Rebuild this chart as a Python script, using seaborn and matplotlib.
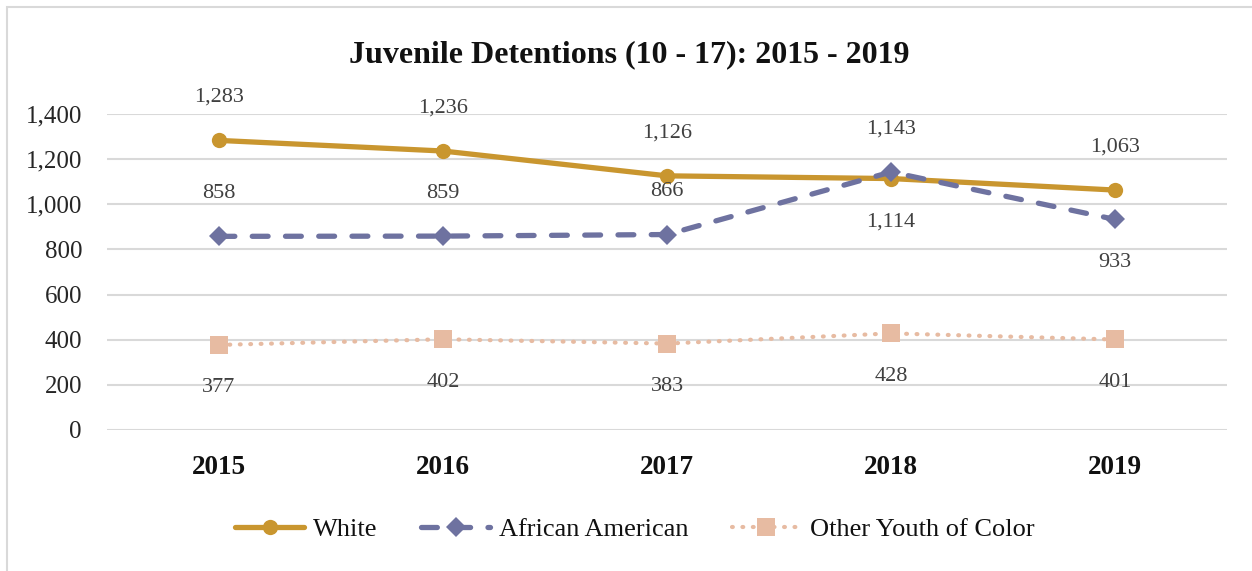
import matplotlib
matplotlib.use("Agg")
import matplotlib.pyplot as plt
from matplotlib.patches import Rectangle
import pandas as pd
import seaborn as sns

# Juvenile detentions by group, ages 10-17
years = ["2015", "2016", "2017", "2018", "2019"]
white = [1283, 1236, 1126, 1114, 1063]
african_american = [858, 859, 866, 1143, 933]
other_youth = [377, 402, 383, 428, 401]

series_names = ["White", "African American", "Other Youth of Color"]
series_values = [white, african_american, other_youth]
# where each value label sits relative to its point (+1 above, -1 below)
label_side = [
    [1, 1, 1, -1, 1],
    [1, 1, 1, 1, -1],
    [-1, -1, -1, -1, -1],
]

y_ticks = [0, 200, 400, 600, 800, 1000, 1200, 1400]

colors = ["#C9962F", "#6E72A0", "#E7BBA2"]
styles = [
    dict(marker="o", markersize=11, linewidth=3.8, linestyle="-",
         solid_capstyle="round"),
    dict(marker="D", markersize=10.5, linewidth=3.8,
         linestyle=(0, (3.0, 3.3)), dash_capstyle="round"),
    dict(marker="s", markersize=13, linewidth=3.0,
         linestyle=(0, (0.2, 2.3)), dash_capstyle="round"),
]

sns.set_style("white")
plt.rcParams["font.family"] = ["Liberation Serif", "DejaVu Serif"]

W, H = 1252, 571
fig = plt.figure(figsize=(W / 100, H / 100), dpi=100)
ax = fig.add_axes([107 / W, 1 - 430 / H, (1227 - 107) / W, (430 - 114) / H])

for name, vals, color, st, sides in zip(series_names, series_values, colors,
                                        styles, label_side):
    df = pd.DataFrame({"year": years, "count": vals})
    sns.lineplot(data=df, x="year", y="count", ax=ax, color=color,
                 label=name, markeredgewidth=0, zorder=3, **st)
    for i, (v, s) in enumerate(zip(vals, sides)):
        ax.annotate(f"{v:,}", xy=(i, v), xytext=(0, 31 * s),
                    textcoords="offset points", ha="center", va="center",
                    fontsize=16, color="#404040", annotation_clip=False)

ax.set_ylim(0, 1400)
ax.set_xlim(-0.5, len(years) - 0.5)
ax.set_yticks(y_ticks)
ax.set_yticklabels([f"{t:,}" for t in y_ticks], fontsize=18, color="#262626")
ax.set_xticks(range(len(years)))
ax.set_xticklabels(years, fontsize=19.5, fontweight="bold", color="#111111")
ax.tick_params(axis="y", length=0, pad=18)
ax.tick_params(axis="x", length=0, pad=18)
ax.set_xlabel("")
ax.set_ylabel("")
ax.grid(axis="y", color="#D9D9D9", linewidth=1.5)
ax.grid(axis="x", visible=False)
ax.set_axisbelow(True)
for sp in ax.spines.values():
    sp.set_visible(False)

handles, labels = ax.get_legend_handles_labels()
ax.legend(handles, labels, loc="center", ncol=3, frameon=False,
          bbox_to_anchor=(635 / W, 1 - 529 / H), bbox_transform=fig.transFigure,
          fontsize=19, handlelength=2.6, handletextpad=0.35, columnspacing=1.65,
          labelcolor="#111111")

fig.text(629 / W, 1 - 55 / H, "Juvenile Detentions (10 - 17): 2015 - 2019",
         ha="center", va="center", fontsize=23, fontweight="bold", color="#111111")

fig.patches.append(Rectangle((7 / W, -0.1), 1.2, 1.1 - 7 / H,
                             transform=fig.transFigure, fill=False,
                             edgecolor="#D9D9D9", linewidth=1.5))

fig.savefig("out.png", dpi=100, facecolor="white")
